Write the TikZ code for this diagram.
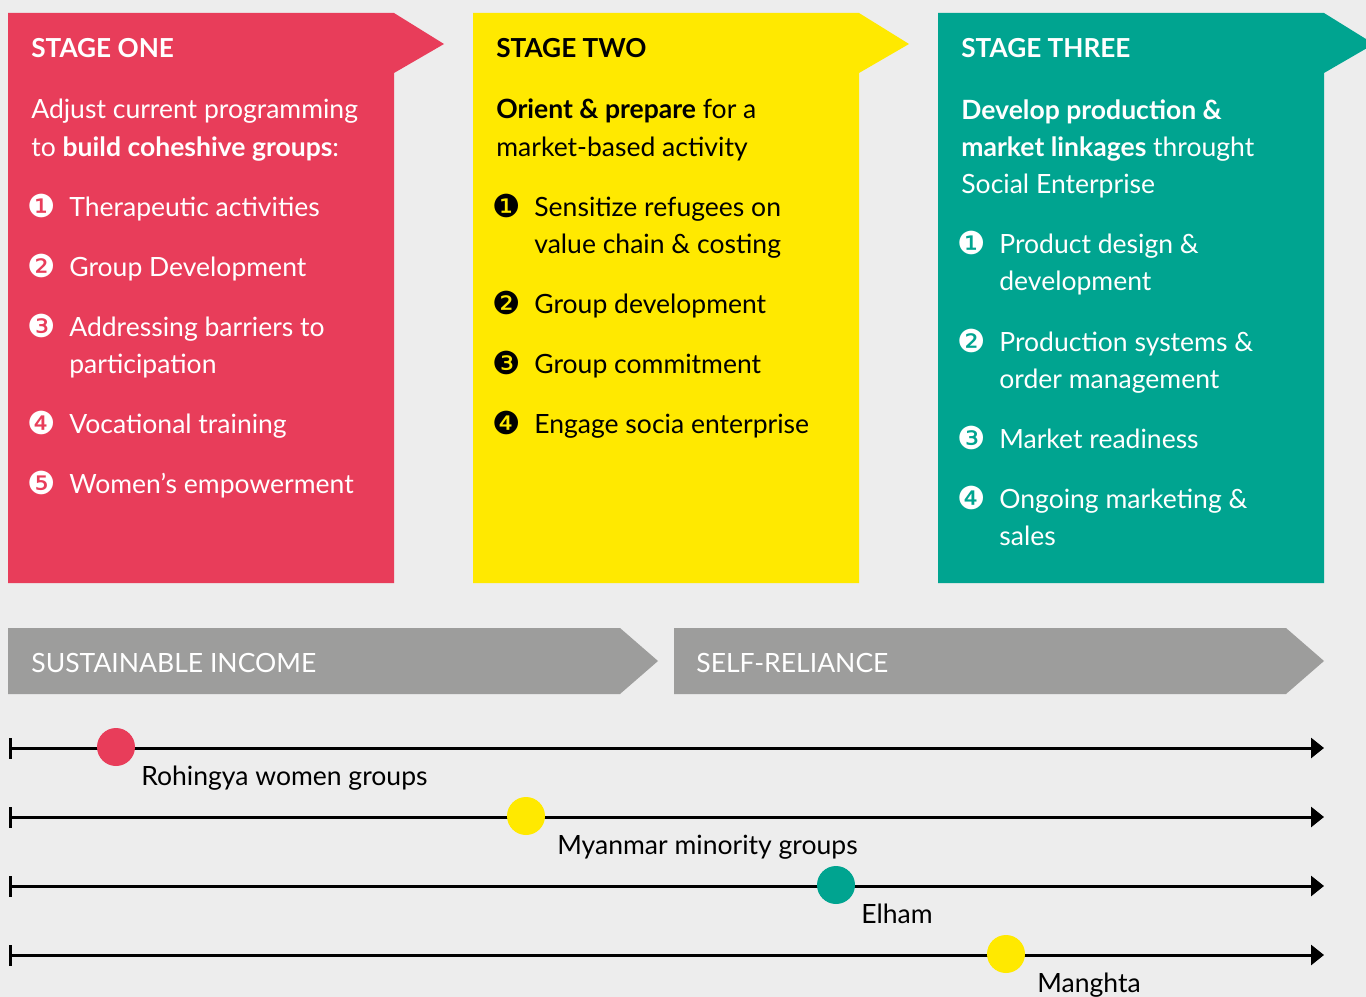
\documentclass[tikz,border=0pt]{standalone}
\usepackage{fontspec}
\setmainfont{Lato}
\newfontfamily\dingfont{DejaVu Sans}
\usetikzlibrary{arrows.meta}
\definecolor{stagered}{HTML}{E83D5A}
\definecolor{stageyellow}{HTML}{FFE900}
\definecolor{stageteal}{HTML}{00A490}
\definecolor{bannergray}{HTML}{9D9D9C}
\definecolor{backgray}{HTML}{EDEDED}
\newcommand{\bodysize}{\fontsize{15.1}{21.3}\selectfont}
\newcommand{\marksize}{\fontsize{15.1}{17}\selectfont}

\begin{document}
\begin{tikzpicture}[x=0.02cm, y=-0.02cm,
	heading/.style={anchor=base west, inner sep=0, font=\fontsize{14.9}{18}\selectfont\bfseries},
	body/.style={anchor=base west, inner sep=0, align=left, font=\bodysize},
	bullet/.style={anchor=base, inner sep=0, font=\dingfont\fontsize{18}{20}\selectfont},
	banner/.style={anchor=base west, inner sep=0, font=\marksize, text=white},
	dot/.style={circle, minimum size=0.76cm, inner sep=0},
	marker/.style={anchor=base west, inner sep=0, font=\marksize},
	timeline/.style={line width=1.7pt, {Bar[width=0.42cm]}-{Triangle[length=0.26cm, width=0.4cm]}}]
		\useasboundingbox (0,0) rectangle (1366,997);
		\fill[backgray] (0,0) rectangle (1366,997);
		\fill[stagered] (8,13) -- (394,13) -- (444,44) -- (394,73) -- (394,583) -- (8,583) -- cycle;
		\fill[stageyellow] (473,13) -- (859,13) -- (909,44) -- (859,73) -- (859,583) -- (473,583) -- cycle;
		\fill[stageteal] (938,13) -- (1324,13) -- (1374,44) -- (1324,73) -- (1324,583) -- (938,583) -- cycle;
		\node[heading, text=white] (h1) at (31,58) {STAGE ONE};
		\node[body, text=white] (p1) at (31,156) {Adjust current programming\\to \textbf{build coheshive groups}:};
		\node[bullet, text=white] (b11) at (42,217) {❶};
		\node[body, text=white] (i11) at (69,216) {Therapeutic activities};
		\node[bullet, text=white] (b12) at (42,277) {❷};
		\node[body, text=white] (i12) at (69,276) {Group Development};
		\node[bullet, text=white] (b13) at (42,337) {❸};
		\node[body, text=white] (i13) at (69,373.5) {Addressing barriers to\\participation};
		\node[bullet, text=white] (b14) at (42,434) {❹};
		\node[body, text=white] (i14) at (69,433) {Vocational training};
		\node[bullet, text=white] (b15) at (42,494) {❺};
		\node[body, text=white] (i15) at (69,493) {Women’s empowerment};
		\node[heading] (h2) at (496,58) {STAGE TWO};
		\node[body] (p2) at (496,156) {\textbf{Orient \& prepare} for a\\market-based activity};
		\node[bullet] (b21) at (507,217) {❶};
		\node[body] (i21) at (534,253.5) {Sensitize refugees on\\value chain \& costing};
		\node[bullet] (b22) at (507,314) {❷};
		\node[body] (i22) at (534,313) {Group development};
		\node[bullet] (b23) at (507,374) {❸};
		\node[body] (i23) at (534,373) {Group commitment};
		\node[bullet] (b24) at (507,434) {❹};
		\node[body] (i24) at (534,433) {Engage socia enterprise};
		\node[heading, text=white] (h3) at (961,58) {STAGE THREE};
		\node[body, text=white] (p3) at (961,194) {\textbf{Develop production \&}\\\textbf{market linkages} throught\\Social Enterprise};
		\node[bullet, text=white] (b31) at (972,254) {❶};
		\node[body, text=white] (i31) at (999,290.5) {Product design \&\\development};
		\node[bullet, text=white] (b32) at (972,352) {❷};
		\node[body, text=white] (i32) at (999,388.5) {Production systems \&\\order management};
		\node[bullet, text=white] (b33) at (972,449) {❸};
		\node[body, text=white] (i33) at (999,448) {Market readiness};
		\node[bullet, text=white] (b34) at (972,509) {❹};
		\node[body, text=white] (i34) at (999,545.5) {Ongoing marketing \&\\sales};
		\fill[bannergray] (8,628) -- (620,628) -- (658,661) -- (620,694) -- (8,694) -- cycle;
		\fill[bannergray] (674,628) -- (1286,628) -- (1324,661) -- (1286,694) -- (674,694) -- cycle;
		\node[banner] (income) at (31,672) {SUSTAINABLE INCOME};
		\node[banner] (reliance) at (696,672) {SELF-RELIANCE};
		\coordinate (s1) at (9,748);
		\coordinate (e1) at (1324,748);
		\coordinate (s2) at (9,817);
		\coordinate (e2) at (1324,817);
		\coordinate (s3) at (9,886);
		\coordinate (e3) at (1324,886);
		\coordinate (s4) at (9,955);
		\coordinate (e4) at (1324,955);
		\draw[timeline] (s1) -- (e1);
		\draw[timeline] (s2) -- (e2);
		\draw[timeline] (s3) -- (e3);
		\draw[timeline] (s4) -- (e4);
		\node[dot, fill=stagered] (rohingya) at (116,747) {};
		\node[dot, fill=stageyellow] (myanmar) at (526,816) {};
		\node[dot, fill=stageteal] (elham) at (836,885) {};
		\node[dot, fill=stageyellow] (manghta) at (1006,954) {};
		\node[marker] (l1) at (141,785) {Rohingya women groups};
		\node[marker] (l2) at (557,854) {Myanmar minority groups};
		\node[marker] (l3) at (861,923) {Elham};
		\node[marker] (l4) at (1037,992) {Manghta};
	\end{tikzpicture}
\end{document}
